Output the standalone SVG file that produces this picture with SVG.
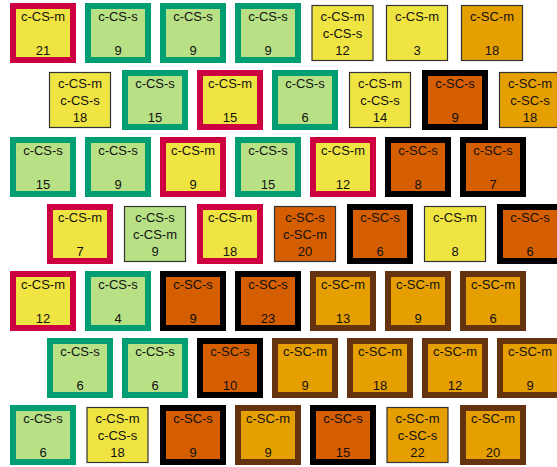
<svg xmlns="http://www.w3.org/2000/svg" width="557" height="467" viewBox="0 0 557 467">
<style>
text{font-family:"Liberation Sans",Arial,sans-serif;font-size:13px;fill:#111;text-anchor:middle}
.thick{stroke-width:6}
.thin{stroke:#333;stroke-width:1.2}
.y{fill:#f0e442}.g{fill:#b8e186}.o{fill:#e69f00}.d{fill:#d55e00}
.R{stroke:#cc0040}.G{stroke:#009e73}.K{stroke:#000}.B{stroke:#663311}
</style>
<defs>
<rect id="tk" x="-30" y="-27" width="60" height="54"/>
<rect id="tn" x="-30.5" y="-27.5" width="61" height="55"/>
</defs>
<g id="connectors"/>
<!-- Row 1 -->
<g id="n1_1" transform="translate(43,33)"><use href="#tk" class="thick y R"/><text y="-12">c-CS-m</text><text y="21.5">21</text></g>
<g id="n1_2" transform="translate(118,33)"><use href="#tk" class="thick g G"/><text y="-12">c-CS-s</text><text y="21.5">9</text></g>
<g id="n1_3" transform="translate(193,33)"><use href="#tk" class="thick g G"/><text y="-12">c-CS-s</text><text y="21.5">9</text></g>
<g id="n1_4" transform="translate(268,33)"><use href="#tk" class="thick g G"/><text y="-12">c-CS-s</text><text y="21.5">9</text></g>
<g id="n1_5" transform="translate(342.5,33)"><use href="#tn" class="thin y"/><text y="-12">c-CS-m</text><text y="4.5">c-CS-s</text><text y="21.5">12</text></g>
<g id="n1_6" transform="translate(417,33)"><use href="#tn" class="thin y"/><text y="-12">c-CS-m</text><text y="21.5">3</text></g>
<g id="n1_7" transform="translate(492,33)"><use href="#tn" class="thin o"/><text y="-12">c-SC-m</text><text y="21.5">18</text></g>
<!-- Row 2 -->
<g id="n2_1" transform="translate(80,100)"><use href="#tn" class="thin y"/><text y="-12">c-CS-m</text><text y="4.5">c-CS-s</text><text y="21.5">18</text></g>
<g id="n2_2" transform="translate(155,100)"><use href="#tk" class="thick g G"/><text y="-12">c-CS-s</text><text y="21.5">15</text></g>
<g id="n2_3" transform="translate(230,100)"><use href="#tk" class="thick y R"/><text y="-12">c-CS-m</text><text y="21.5">15</text></g>
<g id="n2_4" transform="translate(305,100)"><use href="#tk" class="thick g G"/><text y="-12">c-CS-s</text><text y="21.5">6</text></g>
<g id="n2_5" transform="translate(380,100)"><use href="#tn" class="thin y"/><text y="-12">c-CS-m</text><text y="4.5">c-CS-s</text><text y="21.5">14</text></g>
<g id="n2_6" transform="translate(455,100)"><use href="#tk" class="thick d K"/><text y="-12">c-SC-s</text><text y="21.5">9</text></g>
<g id="n2_7" transform="translate(530,100)"><use href="#tn" class="thin o"/><text y="-12">c-SC-m</text><text y="4.5">c-SC-s</text><text y="21.5">18</text></g>
<!-- Row 3 -->
<g id="n3_1" transform="translate(43,167)"><use href="#tk" class="thick g G"/><text y="-12">c-CS-s</text><text y="21.5">15</text></g>
<g id="n3_2" transform="translate(118,167)"><use href="#tk" class="thick g G"/><text y="-12">c-CS-s</text><text y="21.5">9</text></g>
<g id="n3_3" transform="translate(193,167)"><use href="#tk" class="thick y R"/><text y="-12">c-CS-m</text><text y="21.5">9</text></g>
<g id="n3_4" transform="translate(268,167)"><use href="#tk" class="thick g G"/><text y="-12">c-CS-s</text><text y="21.5">15</text></g>
<g id="n3_5" transform="translate(343,167)"><use href="#tk" class="thick y R"/><text y="-12">c-CS-m</text><text y="21.5">12</text></g>
<g id="n3_6" transform="translate(418,167)"><use href="#tk" class="thick d K"/><text y="-12">c-SC-s</text><text y="21.5">8</text></g>
<g id="n3_7" transform="translate(493,167)"><use href="#tk" class="thick d K"/><text y="-12">c-SC-s</text><text y="21.5">7</text></g>
<!-- Row 4 -->
<g id="n4_1" transform="translate(80,234)"><use href="#tk" class="thick y R"/><text y="-12">c-CS-m</text><text y="21.5">7</text></g>
<g id="n4_2" transform="translate(155,234)"><use href="#tn" class="thin g"/><text y="-12">c-CS-s</text><text y="4.5">c-CS-m</text><text y="21.5">9</text></g>
<g id="n4_3" transform="translate(230,234)"><use href="#tk" class="thick y R"/><text y="-12">c-CS-m</text><text y="21.5">18</text></g>
<g id="n4_4" transform="translate(305,234)"><use href="#tn" class="thin d"/><text y="-12">c-SC-s</text><text y="4.5">c-SC-m</text><text y="21.5">20</text></g>
<g id="n4_5" transform="translate(380,234)"><use href="#tk" class="thick d K"/><text y="-12">c-SC-s</text><text y="21.5">6</text></g>
<g id="n4_6" transform="translate(455,234)"><use href="#tn" class="thin y"/><text y="-12">c-CS-m</text><text y="21.5">8</text></g>
<g id="n4_7" transform="translate(530,234)"><use href="#tk" class="thick d K"/><text y="-12">c-SC-s</text><text y="21.5">6</text></g>
<!-- Row 5 -->
<g id="n5_1" transform="translate(43,301)"><use href="#tk" class="thick y R"/><text y="-12">c-CS-m</text><text y="21.5">12</text></g>
<g id="n5_2" transform="translate(118,301)"><use href="#tk" class="thick g G"/><text y="-12">c-CS-s</text><text y="21.5">4</text></g>
<g id="n5_3" transform="translate(193,301)"><use href="#tk" class="thick d K"/><text y="-12">c-SC-s</text><text y="21.5">9</text></g>
<g id="n5_4" transform="translate(268,301)"><use href="#tk" class="thick d K"/><text y="-12">c-SC-s</text><text y="21.5">23</text></g>
<g id="n5_5" transform="translate(343,301)"><use href="#tk" class="thick o B"/><text y="-12">c-SC-m</text><text y="21.5">13</text></g>
<g id="n5_6" transform="translate(418,301)"><use href="#tk" class="thick o B"/><text y="-12">c-SC-m</text><text y="21.5">9</text></g>
<g id="n5_7" transform="translate(493,301)"><use href="#tk" class="thick o B"/><text y="-12">c-SC-m</text><text y="21.5">6</text></g>
<!-- Row 6 -->
<g id="n6_1" transform="translate(80,368)"><use href="#tk" class="thick g G"/><text y="-12">c-CS-s</text><text y="21.5">6</text></g>
<g id="n6_2" transform="translate(155,368)"><use href="#tk" class="thick g G"/><text y="-12">c-CS-s</text><text y="21.5">6</text></g>
<g id="n6_3" transform="translate(230,368)"><use href="#tk" class="thick d K"/><text y="-12">c-SC-s</text><text y="21.5">10</text></g>
<g id="n6_4" transform="translate(305,368)"><use href="#tk" class="thick o B"/><text y="-12">c-SC-m</text><text y="21.5">9</text></g>
<g id="n6_5" transform="translate(380,368)"><use href="#tk" class="thick o B"/><text y="-12">c-SC-m</text><text y="21.5">18</text></g>
<g id="n6_6" transform="translate(455,368)"><use href="#tk" class="thick o B"/><text y="-12">c-SC-m</text><text y="21.5">12</text></g>
<g id="n6_7" transform="translate(530,368)"><use href="#tk" class="thick o B"/><text y="-12">c-SC-m</text><text y="21.5">9</text></g>
<!-- Row 7 -->
<g id="n7_1" transform="translate(43,435)"><use href="#tk" class="thick g G"/><text y="-12">c-CS-s</text><text y="21.5">6</text></g>
<g id="n7_2" transform="translate(117.5,435)"><use href="#tn" class="thin y"/><text y="-12">c-CS-m</text><text y="4.5">c-CS-s</text><text y="21.5">18</text></g>
<g id="n7_3" transform="translate(193,435)"><use href="#tk" class="thick d K"/><text y="-12">c-SC-s</text><text y="21.5">9</text></g>
<g id="n7_4" transform="translate(268,435)"><use href="#tk" class="thick o B"/><text y="-12">c-SC-m</text><text y="21.5">9</text></g>
<g id="n7_5" transform="translate(343,435)"><use href="#tk" class="thick d K"/><text y="-12">c-SC-s</text><text y="21.5">15</text></g>
<g id="n7_6" transform="translate(417.5,435)"><use href="#tn" class="thin o"/><text y="-12">c-SC-m</text><text y="4.5">c-SC-s</text><text y="21.5">22</text></g>
<g id="n7_7" transform="translate(493,435)"><use href="#tk" class="thick o B"/><text y="-12">c-SC-m</text><text y="21.5">20</text></g>
</svg>
